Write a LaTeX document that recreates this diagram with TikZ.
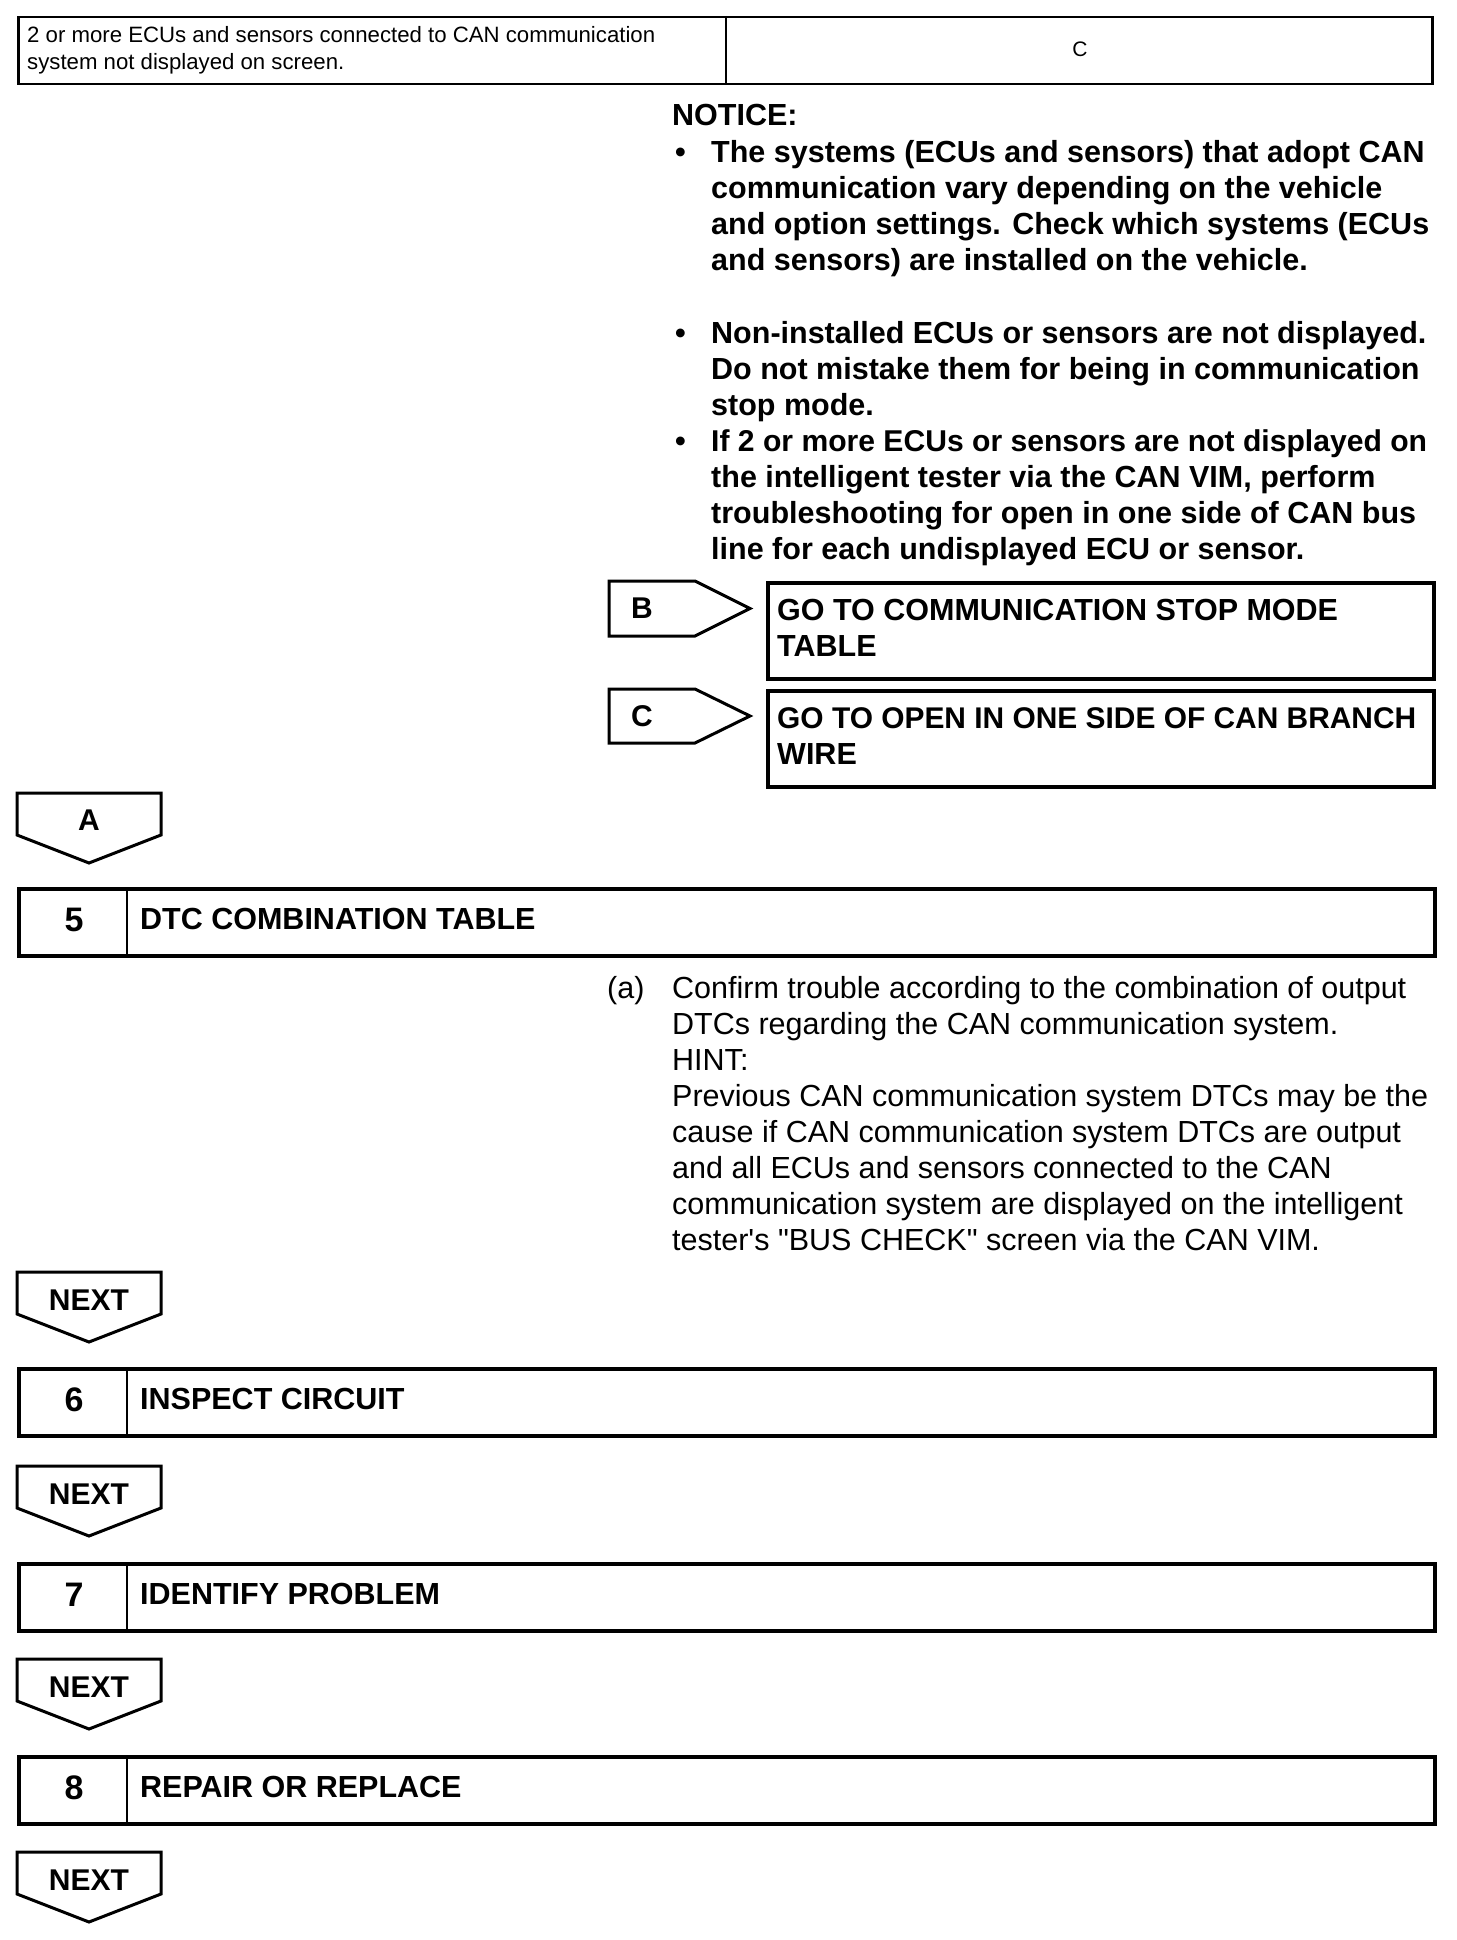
\documentclass[tikz,border=0pt]{standalone}
\usepackage{fontspec}
\setmainfont{Liberation Sans}
\begin{document}
\begin{tikzpicture}[x=1pt,y=-1pt,
  bt/.style={font=\bfseries\fontsize{30.5}{36}\selectfont, anchor=base west, inner sep=0pt},
  rt/.style={font=\fontsize{30.5}{36}\selectfont, anchor=base west, inner sep=0pt},
  st/.style={font=\fontsize{22.2}{27}\selectfont, anchor=base west, inner sep=0pt},
  stepbox/.style={draw, line width=4pt, anchor=north west, minimum width=1416pt, minimum height=67pt, inner sep=0pt},
  gobox/.style={draw, line width=4pt, anchor=north west, minimum width=666pt, minimum height=96pt, inner sep=0pt},
  tagline/.style={draw, line width=3pt, line join=miter},
  num/.style={font=\bfseries\fontsize{34}{40}\selectfont, anchor=center, inner sep=0pt},
  tagtxt/.style={font=\bfseries\fontsize{30}{36}\selectfont, anchor=center, inner sep=0pt}
]
\useasboundingbox (0,0) rectangle (1456,1940);
\fill[white] (0,0) rectangle (1456,1940);

% top table
\node (tbl) [draw, line width=2.5pt, anchor=north west, minimum width=1414pt, minimum height=67pt, inner sep=0pt] at (17,16) {};
\draw[line width=1.2pt] (726,16) coordinate (tdt) -- (726,83) coordinate (tdb);
\node (t1) [st] at (27,43) {2 or more ECUs and sensors connected to CAN communication};
\node (t2) [st] at (27,70) {system not displayed on screen.};
\node (tc) [font=\fontsize{21}{27}\selectfont, anchor=center, inner sep=0pt] at (1080,49) {C};

% notice
\node (n0) [bt] at (672,126) {NOTICE:};
\node (b1) [bt] at (675,162) {•};
\node (n1) [bt] at (711,162) {The systems (ECUs and sensors) that adopt CAN};
\node (n2) [bt] at (711,198) {communication vary depending on the vehicle};
\node (n3) [bt] at (711,234) {and option settings. Check which systems (ECUs};
\node (n4) [bt] at (711,270) {and sensors) are installed on the vehicle.};
\node (b2) [bt] at (675,343) {•};
\node (n6) [bt] at (711,343) {Non-installed ECUs or sensors are not displayed.};
\node (n7) [bt] at (711,379) {Do not mistake them for being in communication};
\node (n8) [bt] at (711,415) {stop mode.};
\node (b3) [bt] at (675,451) {•};
\node (n9) [bt, font=\bfseries\fontsize{30.1}{36}\selectfont] at (711,451) {If 2 or more ECUs or sensors are not displayed on};
\node (n10) [bt] at (711,487) {the intelligent tester via the CAN VIM, perform};
\node (n11) [bt] at (711,523) {troubleshooting for open in one side of CAN bus};
\node (n12) [bt] at (711,559) {line for each undisplayed ECU or sensor.};

% B branch
\draw[tagline] (609,581) -- (695,581) -- (750,608.5) -- (695,636) -- (609,636) -- cycle;
\node (tB) [tagtxt] at (642,608) {B};
\node (gB) [gobox] at (766,581) {};
\node (gB1) [bt] at (777,620) {GO TO COMMUNICATION STOP MODE};
\node (gB2) [bt] at (777,656) {TABLE};

% C branch
\draw[tagline] (609,689) -- (695,689) -- (750,716) -- (695,743) -- (609,743) -- cycle;
\node (tC) [tagtxt] at (642,716) {C};
\node (gC) [gobox] at (766,689) {};
\node (gC1) [bt, font=\bfseries\fontsize{29.9}{36}\selectfont] at (777,728) {GO TO OPEN IN ONE SIDE OF CAN BRANCH};
\node (gC2) [bt] at (777,764) {WIRE};

% A tag
\draw[tagline] (17,793) -- (161,793) -- (161,835) -- (89,863) -- (17,835) -- cycle;
\node (tA) [tagtxt] at (89,820) {A};

% step 5
\node (s5) [stepbox] at (17,887) {};
\draw[line width=2.5pt] (127,887) -- (127,954);
\node (s5n) [num] at (74,920) {5};
\node (s5t) [bt] at (140,929) {DTC COMBINATION TABLE};

\node (pa) [rt] at (607,998) {(a)};
\node (a1) [rt] at (672,998) {Confirm trouble according to the combination of output};
\node (a2) [rt] at (672,1034) {DTCs regarding the CAN communication system.};
\node (a3) [rt] at (672,1070) {HINT:};
\node (a4) [rt] at (672,1106) {Previous CAN communication system DTCs may be the};
\node (a5) [rt] at (672,1142) {cause if CAN communication system DTCs are output};
\node (a6) [rt] at (672,1178) {and all ECUs and sensors connected to the CAN};
\node (a7) [rt] at (672,1214) {communication system are displayed on the intelligent};
\node (a8) [rt] at (672,1250) {tester\textquotesingle s \textquotedbl BUS CHECK\textquotedbl\ screen via the CAN VIM.};

% NEXT 1
\draw[tagline] (17,1272) -- (161,1272) -- (161,1314) -- (89,1342) -- (17,1314) -- cycle;
\node (x1) [tagtxt] at (89,1300) {NEXT};

% step 6
\node (s6) [stepbox] at (17,1367) {};
\draw[line width=2.5pt] (127,1367) -- (127,1434);
\node (s6n) [num] at (74,1400) {6};
\node (s6t) [bt] at (140,1409) {INSPECT CIRCUIT};

% NEXT 2
\draw[tagline] (17,1466) -- (161,1466) -- (161,1508) -- (89,1536) -- (17,1508) -- cycle;
\node (x2) [tagtxt] at (89,1494) {NEXT};

% step 7
\node (s7) [stepbox] at (17,1562) {};
\draw[line width=2.5pt] (127,1562) -- (127,1629);
\node (s7n) [num] at (74,1595) {7};
\node (s7t) [bt] at (140,1604) {IDENTIFY PROBLEM};

% NEXT 3
\draw[tagline] (17,1659) -- (161,1659) -- (161,1701) -- (89,1729) -- (17,1701) -- cycle;
\node (x3) [tagtxt] at (89,1687) {NEXT};

% step 8
\node (s8) [stepbox] at (17,1755) {};
\draw[line width=2.5pt] (127,1755) -- (127,1822);
\node (s8n) [num] at (74,1788) {8};
\node (s8t) [bt] at (140,1797) {REPAIR OR REPLACE};

% NEXT 4
\draw[tagline] (17,1852) -- (161,1852) -- (161,1894) -- (89,1922) -- (17,1894) -- cycle;
\node (x4) [tagtxt] at (89,1880) {NEXT};
\end{tikzpicture}
\end{document}
